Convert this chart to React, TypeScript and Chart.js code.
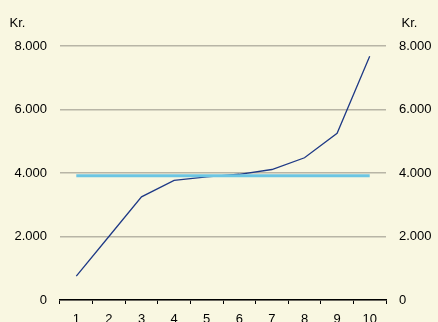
import React, { useEffect, useRef } from "react";
import { Chart, registerables } from "chart.js";

Chart.register(...registerables);

const categories = ["1", "2", "3", "4", "5", "6", "7", "8", "9", "10"];
const seriesValues = [750, 2000, 3250, 3770, 3880, 3960, 4110, 4480, 5250, 7680];
const averageValue = 3915;
const averageValues = categories.map(() => averageValue);
const yTicks = [0, 2000, 4000, 6000, 8000];
const unitLabel = "Kr.";

const fmt = (v: number) => String(v).replace(/\B(?=(\d{3})+(?!\d))/g, ".");

const FONT = "'Liberation Sans', Arial, sans-serif";
const FS = 13;

export default function App() {
  const ref = useRef<HTMLCanvasElement | null>(null);

  useEffect(() => {
    if (!ref.current) return;
    Chart.defaults.font.family = FONT;
    Chart.defaults.font.size = FS;
    Chart.defaults.color = "#000";

    const unitPlugin = {
      id: "unitLabels",
      afterDraw(chart: any) {
        const ctx = chart.ctx;
        ctx.save();
        ctx.font = `${FS}px ${FONT}`;
        ctx.fillStyle = "#000";
        ctx.textBaseline = "alphabetic";
        ctx.textAlign = "left";
        ctx.fillText(unitLabel, 9.5, 26.5);
        ctx.fillText(unitLabel, 401.5, 26.5);
        ctx.restore();
      },
    };

    const chart = new Chart(ref.current, {
      type: "line",
      data: {
        labels: categories,
        datasets: [
          {
            data: averageValues,
            borderColor: "#6CC6E3",
            borderWidth: 3,
            pointRadius: 0,
            tension: 0,
            yAxisID: "y",
          },
          {
            data: seriesValues,
            borderColor: "#1F3A86",
            borderWidth: 1.3,
            pointRadius: 0,
            tension: 0,
            yAxisID: "y",
          },
        ],
      },
      options: {
        animation: false,
        responsive: false,
        events: [],
        layout: { padding: { top: 46, left: 0, right: 0, bottom: 0 } },
        plugins: { legend: { display: false }, tooltip: { enabled: false } },
        scales: {
          x: {
            type: "category",
            offset: true,
            grid: {
              offset: true,
              drawOnChartArea: false,
              drawTicks: true,
              tickLength: 4,
              color: "#000",
              lineWidth: 1,
            },
            border: { display: true, color: "#000", width: 1.5 },
            ticks: { padding: 8, color: "#000", maxRotation: 0, autoSkip: false, font: { size: FS } },
            afterFit: (s: any) => {
              s.height = 22;
            },
          },
          y: {
            position: "left",
            min: 0,
            max: 8000,
            afterBuildTicks: (s: any) => {
              s.ticks = yTicks.map((v) => ({ value: v }));
            },
            grid: { color: "#B8B5A6", lineWidth: 1.5, drawTicks: false },
            border: { display: false },
            ticks: { padding: 13, color: "#000", callback: (v: any) => fmt(Number(v)), font: { size: FS } },
            afterFit: (s: any) => {
              s.width = 60;
            },
          },
          y2: {
            position: "right",
            min: 0,
            max: 8000,
            afterBuildTicks: (s: any) => {
              s.ticks = yTicks.map((v) => ({ value: v }));
            },
            grid: { display: false, drawTicks: false },
            border: { display: false },
            ticks: { padding: 13, color: "#000", callback: (v: any) => fmt(Number(v)), font: { size: FS } },
            afterFit: (s: any) => {
              s.width = 52;
            },
          },
        },
      },
      plugins: [unitPlugin],
    } as any);

    return () => chart.destroy();
  }, []);

  return (
    <div style={{ position: "fixed", left: 0, top: 0, width: 438, height: 322, background: "#F9F7E1" }}>
      <canvas ref={ref} width={438} height={322} style={{ display: "block", width: 438, height: 322 }} />
    </div>
  );
}
